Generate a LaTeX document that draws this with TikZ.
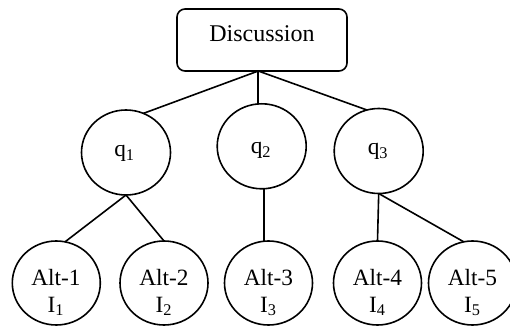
\documentclass[tikz,border=0pt]{standalone}
\usepackage{fontspec}
\setmainfont{Liberation Serif}
\usetikzlibrary{shapes.geometric}
\begin{document}
\begin{tikzpicture}[x=0.75pt,y=-0.75pt,
  link/.style={line width=1.2pt},
  topic/.style={draw, line width=1.2pt, rounded corners=6pt, minimum width=127.5pt,
    minimum height=46.5pt, inner sep=0pt, outer sep=0pt},
  qbub/.style={draw, ellipse, line width=1.2pt, minimum width=66.75pt,
    minimum height=63.75pt, inner sep=0pt, outer sep=0pt},
  altbub/.style={draw, ellipse, line width=1.2pt, minimum width=66pt,
    minimum height=63pt, inner sep=0pt, outer sep=0pt},
  txt/.style={inner sep=0pt, anchor=base, font=\fontsize{17.5pt}{20pt}\selectfont},
  twoline/.style={inner sep=0pt, align=center, font=\fontsize{17.5pt}{20pt}\selectfont}]
\useasboundingbox (0,0) rectangle (510,327);
\clip (0,0) rectangle (510,327);

% root box
\node[topic] (box) at (262,40) {};
\node[txt, font=\fontsize{18pt}{21pt}\selectfont] (disc) at (262,42) {Discussion};

% question nodes
\node[qbub] (q1) at (126,152.5) {};
\node[qbub] (q2) at (261.7,146.3) {};
\node[qbub] (q3) at (378.7,151) {};
\node[txt] (q1t) at (124.5,157) {q\textsubscript{1}};
\node[txt] (q2t) at (261,153.7) {q\textsubscript{2}};
\node[txt] (q3t) at (378,155) {q\textsubscript{3}};

% alternatives
\node[altbub] (a1) at (56.3,283) {};
\node[altbub] (a2) at (164,283) {};
\node[altbub] (a3) at (268.5,283) {};
\node[altbub] (a4) at (377.5,283) {};
\node[altbub] (a5) at (472.5,283) {};
\node[twoline] (a1t) at (56,292.5) {Alt-1\\I\textsubscript{1}};
\node[twoline] (a2t) at (164,292.5) {Alt-2\\I\textsubscript{2}};
\node[twoline] (a3t) at (268.5,292.5) {Alt-3\\I\textsubscript{3}};
\node[twoline] (a4t) at (377.5,292.5) {Alt-4\\I\textsubscript{4}};
\node[twoline] (a5t) at (472.5,292.5) {Alt-5\\I\textsubscript{5}};

% connectors
\coordinate (hub) at ([xshift=-2.8pt]box.south);
\draw[link] (hub) -- (q1.66);
\draw[link] (hub) -- (hub |- q2.north);
\draw[link] (hub) -- (q3.106);
\draw[link] (q1.south) -- (a1.78);
\draw[link] (q1.south) -- (a2.north);
\draw[link] (q2.-87) -- (q2.-87 |- a3.north);
\draw[link] (q3.south) -- (a4.north);
\draw[link] (q3.south) -- (a5.102);
\end{tikzpicture}
\end{document}
